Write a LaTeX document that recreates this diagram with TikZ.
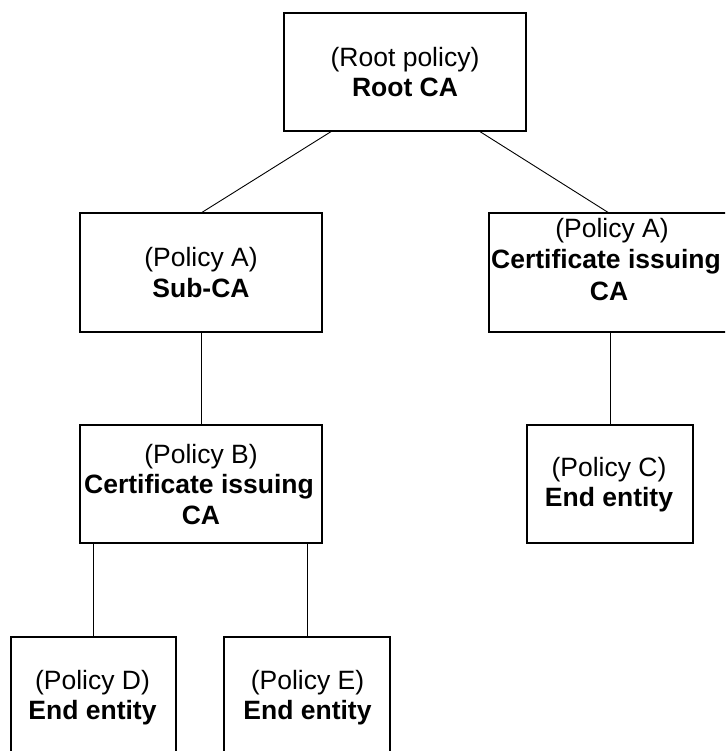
\documentclass[tikz,border=0pt]{standalone}
\usepackage{fontspec}
\setmainfont{Liberation Sans}
\usetikzlibrary{calc}
\begin{document}
\begin{tikzpicture}[x=1pt,y=-1pt,
  box/.style={draw,line width=2pt,rectangle,inner sep=0pt,outer sep=0pt},
  link/.style={line width=0.9pt},
  lbl/.style={anchor=base,inner sep=0pt,font=\fontsize{26.5}{31}\selectfont},
  hd/.style={anchor=base,inner sep=0pt,font=\fontsize{26.5}{31}\selectfont\bfseries}]
\path[use as bounding box,clip] (0,0) rectangle (725,751);

% boxes
\node[box,minimum width=242pt,minimum height=118pt] (root)  at (405,72)    {};
\node[box,minimum width=242pt,minimum height=119pt] (subca) at (201,272.5) {};
\node[box,minimum width=240pt,minimum height=119pt] (rca)   at (609,272.5) {};
\node[box,minimum width=242pt,minimum height=118pt] (polb)  at (201,484)   {};
\node[box,minimum width=166pt,minimum height=118pt] (polc)  at (610,484)   {};
\node[box,minimum width=165pt,minimum height=118pt] (pold)  at (93.5,696)  {};
\node[box,minimum width=166pt,minimum height=118pt] (pole)  at (307,696)   {};

% labels
\node[lbl] (rootA) at (405,67)  {(Root policy)};
\node[hd]  (rootB) at (405,97)  {Root CA};
\node[lbl] (subA)  at (201,266) {(Policy A)};
\node[hd]  (subB)  at (201,297) {Sub-CA};
\node[lbl] (rcaA)  at (612,237) {(Policy A)};
\node[hd]  (rcaB)  at (606,268) {Certificate issuing};
\node[hd]  (rcaC)  at (609,300) {CA};
\node[lbl] (pbA)   at (201,463) {(Policy B)};
\node[hd]  (pbB)   at (199,493) {Certificate issuing};
\node[hd]  (pbC)   at (201,524) {CA};
\node[lbl] (pcA)   at (609,476) {(Policy C)};
\node[hd]  (pcB)   at (609,506) {End entity};
\node[lbl] (pdA)   at (92.5,689) {(Policy D)};
\node[hd]  (pdB)   at (92.5,719) {End entity};
\node[lbl] (peA)   at (307.5,689) {(Policy E)};
\node[hd]  (peB)   at (307.5,719) {End entity};

% connectors
\draw[link] ($(root.south)+(-73,0)$) -- (subca.north);
\draw[link] ($(root.south)+(74,0)$) -- (rca.north);
\draw[link] (subca.south) -- (polb.north);
\draw[link] (polc.north |- rca.south) -- (polc.north);
\draw[link] (pold.north |- polb.south) -- (pold.north);
\draw[link] (pole.north |- polb.south) -- (pole.north);
\end{tikzpicture}
\end{document}
